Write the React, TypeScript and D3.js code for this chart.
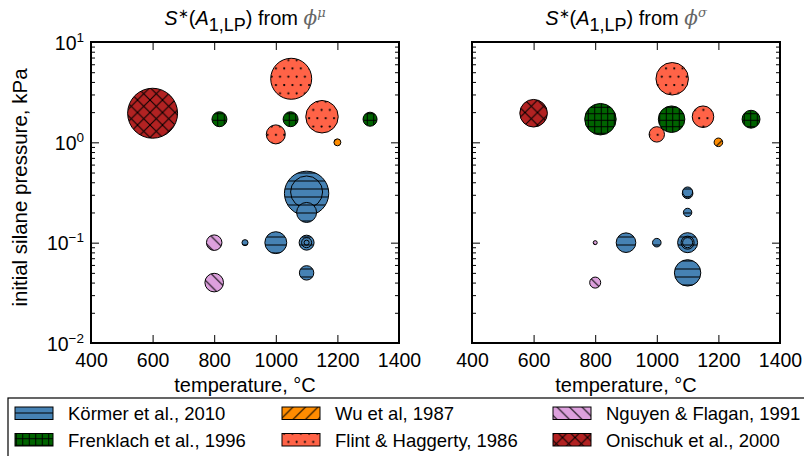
import React, { useRef, useEffect } from 'react';
import * as d3 from 'd3';

// each source: temperature (°C), initial silane pressure (kPa),
// marker size from phi^mu and from phi^sigma
const kormerT = [1100, 1100, 1100, 1000, 900, 1100, 1100, 1100, 1100];
const kormerP = [0.31, 0.32, 0.2, 0.1, 0.1, 0.1, 0.1, 0.1, 0.05];
const kormerMu = [123, 64, 25, 30, 2.3, 14, 6.3, 1.6, 13];
const kormerSigma = [7, 6.3, 4.4, 4.6, 24, 25, 10.6, 6.3, 43.6];

const frenklachT = [817, 1048, 1306];
const frenklachP = [1.7, 1.7, 1.7];
const frenklachMu = [14, 14, 12.3];
const frenklachSigma = [62, 44, 20];

const wuT = [1200];
const wuP = [1.0];
const wuMu = [3];
const wuSigma = [4.6];

const flintT = [1050, 1150, 1000];
const flintP = [4.3, 1.8, 1.2];
const flintMu = [105, 66, 22.6];
const flintSigma = [66, 29, 14.8];

const nguyenT = [800, 800];
const nguyenP = [0.1, 0.04];
const nguyenMu = [15, 21.6];
const nguyenSigma = [1, 7.6];

const onischukT = [600];
const onischukP = [1.95];
const onischukMu = [156];
const onischukSigma = [47.6];

const sourceNames = ['Körmer et al., 2010', 'Frenklach et al., 1996', 'Wu et al, 1987',
  'Flint & Haggerty, 1986', 'Nguyen & Flagan, 1991', 'Onischuk et al., 2000'];
const sourceColors = ['#4682b4', '#006400', '#ff8c00', '#ff6347', '#dda0dd', '#b22222'];
const sourceHatches = ['-', '++', '/', '.', '\\', 'x'];

const xTicks = [400, 600, 800, 1000, 1200, 1400];
const yTicks = [0.01, 0.1, 1, 10];
const yTickExp = ['\u22122', '\u22121', '0', '1'];

const series = [
  { T: kormerT, P: kormerP, mu: kormerMu, sigma: kormerSigma },
  { T: frenklachT, P: frenklachP, mu: frenklachMu, sigma: frenklachSigma },
  { T: wuT, P: wuP, mu: wuMu, sigma: wuSigma },
  { T: flintT, P: flintP, mu: flintMu, sigma: flintSigma },
  { T: nguyenT, P: nguyenP, mu: nguyenMu, sigma: nguyenSigma },
  { T: onischukT, P: onischukP, mu: onischukMu, sigma: onischukSigma },
];

const FONT = '"Liberation Sans", Arial, Helvetica, sans-serif';

function addPattern(defs, id, hatch, color) {
  let w = 8, h = 8;
  if (hatch === '++') { w = 6.5; h = 6.5; }
  if (hatch === '/' || hatch === '\\' || hatch === 'x') { w = 12.5; h = 12.5; }
  if (hatch === '.') { w = 8.3; h = 16.6; }
  const p = defs.append('pattern')
    .attr('id', id)
    .attr('patternUnits', 'userSpaceOnUse')
    .attr('width', w)
    .attr('height', h);
  p.append('rect').attr('width', w).attr('height', h).attr('fill', color);
  const line = (x1, y1, x2, y2) => p.append('line')
    .attr('x1', x1).attr('y1', y1).attr('x2', x2).attr('y2', y2)
    .attr('stroke', '#000').attr('stroke-width', 1);
  if (hatch === '-') line(0, 5, w, 5);
  if (hatch === '++') { line(0, 3.25, w, 3.25); line(3.25, 0, 3.25, h); }
  if (hatch === '/' || hatch === 'x') {
    line(-1, h + 1, w + 1, -1);
    line(-1, 1, 1, -1);
    line(w - 1, h + 1, w + 1, h - 1);
  }
  if (hatch === '\\' || hatch === 'x') {
    line(-1, -1, w + 1, h + 1);
    line(w - 1, -1, w + 1, 1);
    line(-1, h - 1, 1, h + 1);
  }
  if (hatch === '.') {
    [[2, 2], [2 + w / 2, 2 + h / 2]].forEach(([cx, cy]) => {
      p.append('circle').attr('cx', cx).attr('cy', cy).attr('r', 1.1).attr('fill', '#000');
    });
  }
}

const Chart = () => {
  const chartRef = useRef(null);

  useEffect(() => {
    const svg = d3.select(chartRef.current);
    svg.selectAll('*').remove();

    const defs = svg.append('defs');
    sourceHatches.forEach((h, i) => addPattern(defs, `hatch-${i}`, h, sourceColors[i]));

    const top = 42, bottom = 343;
    const panels = [
      { left: 91, right: 399, key: 'mu', sup: '\u03bc', labels: true },
      { left: 472, right: 780, key: 'sigma', sup: '\u03c3', labels: false },
    ];

    const y = d3.scaleLog().domain([0.01, 10]).range([bottom, top]);
    const r = d3.scaleSqrt().domain([0, 100]).range([0, 20]);
    const minor = [];
    [0.01, 0.1, 1].forEach(d => { for (let k = 2; k <= 9; k++) minor.push(d * k); });

    panels.forEach(pn => {
      const x = d3.scaleLinear().domain([400, 1400]).range([pn.left, pn.right]);
      const g = svg.append('g');

      //bubbles
      series.forEach((s, i) => {
        s.T.forEach((t, j) => {
          g.append('circle')
            .attr('cx', x(t))
            .attr('cy', y(s.P[j]))
            .attr('r', r(s[pn.key][j]))
            .attr('fill', `url(#hatch-${i})`)
            .attr('stroke', '#000')
            .attr('stroke-width', 1);
        });
      });

      //axes with inward ticks
      const styleAxis = sel => {
        sel.select('.domain').remove();
        sel.selectAll('line').attr('stroke', '#000').attr('stroke-width', 1);
        sel.attr('font-family', FONT).attr('font-size', 19.5);
      };

      g.append('g')
        .attr('transform', `translate(0,${bottom})`)
        .call(d3.axisBottom(x).tickValues(xTicks).tickFormat(d3.format('d'))
          .tickSizeInner(-8).tickSizeOuter(0).tickPadding(10.5))
        .call(styleAxis)
        .selectAll('text').attr('fill', '#000');

      g.append('g')
        .attr('transform', `translate(0,${top})`)
        .call(d3.axisTop(x).tickValues(xTicks).tickSizeInner(-8).tickSizeOuter(0).tickFormat(() => ''))
        .call(styleAxis);

      const yl = g.append('g')
        .attr('transform', `translate(${pn.left},0)`)
        .call(d3.axisLeft(y).tickValues(yTicks).tickSizeInner(-8).tickSizeOuter(0).tickPadding(7))
        .call(styleAxis);
      yl.selectAll('text').each(function (d, i) {
        const t = d3.select(this);
        t.text('').attr('fill', '#000').attr('dy', '0.36em');
        if (!pn.labels) return;
        t.append('tspan').text('10');
        t.append('tspan').attr('font-size', 13.5).attr('dy', -8).text(yTickExp[i]);
      });

      g.append('g')
        .attr('transform', `translate(${pn.left},0)`)
        .call(d3.axisLeft(y).tickValues(minor).tickSizeInner(-4).tickSizeOuter(0).tickFormat(() => ''))
        .call(styleAxis);

      g.append('g')
        .attr('transform', `translate(${pn.right},0)`)
        .call(d3.axisRight(y).tickValues(yTicks).tickSizeInner(-8).tickSizeOuter(0).tickFormat(() => ''))
        .call(styleAxis);

      g.append('g')
        .attr('transform', `translate(${pn.right},0)`)
        .call(d3.axisRight(y).tickValues(minor).tickSizeInner(-4).tickSizeOuter(0).tickFormat(() => ''))
        .call(styleAxis);

      //frame
      g.append('rect')
        .attr('x', pn.left).attr('y', top)
        .attr('width', pn.right - pn.left).attr('height', bottom - top)
        .attr('fill', 'none').attr('stroke', '#000').attr('stroke-width', 2);

      //title
      const cx = (pn.left + pn.right) / 2;
      const title = g.append('text')
        .attr('x', cx).attr('y', 25)
        .attr('text-anchor', 'middle')
        .attr('font-family', FONT)
        .attr('font-size', 20);
      title.append('tspan').attr('font-style', 'italic').text('S');
      title.append('tspan').attr('font-size', 13).attr('dy', -7).text('\u2217');
      title.append('tspan').attr('dy', 7).text('(');
      title.append('tspan').attr('font-style', 'italic').text('A');
      title.append('tspan').attr('font-size', 18).attr('dy', 6).text('1,LP');
      title.append('tspan').attr('dy', -6).text(') from ');
      title.append('tspan').attr('font-family', '"DejaVu Serif", serif').attr('font-style', 'italic')
        .attr('fill', '#666').text('\u03d5');
      title.append('tspan').attr('font-family', '"DejaVu Serif", serif').attr('font-style', 'italic')
        .attr('fill', '#666').attr('font-size', 13).attr('dy', -8).text(pn.sup);

      //x label
      g.append('text')
        .attr('x', cx).attr('y', 392)
        .attr('text-anchor', 'middle')
        .attr('font-family', FONT)
        .attr('font-size', 20)
        .text('temperature, \u00b0C');
    });

    //y label
    svg.append('text')
      .attr('transform', `translate(27,${(top + bottom) / 2 - 5}) rotate(-90)`)
      .attr('text-anchor', 'middle')
      .attr('font-family', FONT)
      .attr('font-size', 20.5)
      .text('initial silane pressure, kPa');

    //legend
    const lg = svg.append('g');
    lg.append('rect')
      .attr('x', 8).attr('y', 398).attr('width', 820).attr('height', 80)
      .attr('fill', '#fff').attr('stroke', '#000').attr('stroke-width', 1.2);
    const colX = [15, 282, 553];
    const rowY = [407, 433.5];
    sourceNames.forEach((name, i) => {
      const px = colX[Math.floor(i / 2)];
      const py = rowY[i % 2];
      lg.append('rect')
        .attr('x', px).attr('y', py).attr('width', 38).attr('height', 12.5)
        .attr('fill', `url(#hatch-${i})`).attr('stroke', '#000').attr('stroke-width', 1);
      lg.append('text')
        .attr('x', px + 53).attr('y', py + 13)
        .attr('font-family', FONT)
        .attr('font-size', 18.5)
        .text(name);
    });
  }, []);

  return <svg ref={chartRef} width={804} height={456} style={{ position: 'absolute', left: 0, top: 0 }}></svg>;
};

export default function App() {
  return <Chart />;
}
